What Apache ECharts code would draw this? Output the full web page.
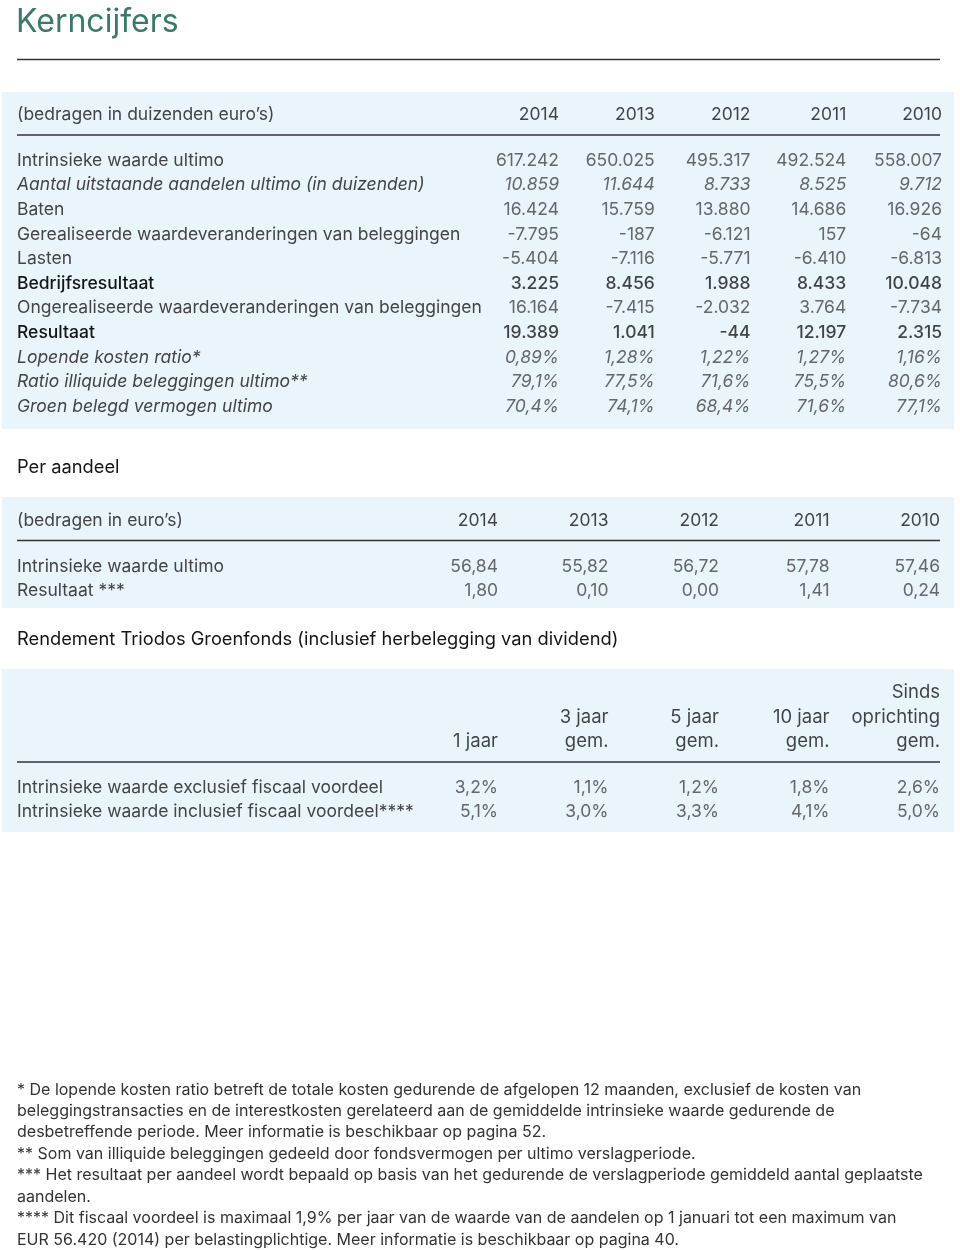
<!DOCTYPE html>
<html><head><meta charset="utf-8">
<script src="https://cdn.jsdelivr.net/npm/echarts@6/dist/echarts.min.js"></script>
<style>html,body{margin:0;padding:0;background:#fff}#c{width:960px;height:1250px}</style>
</head><body><div id="c"></div>
<script>
// ---------- DATA ----------
const years = ['2014', '2013', '2012', '2011', '2010'];
const kernHeader = '(bedragen in duizenden euro’s)';
const kernRows = [
  'Intrinsieke waarde ultimo',
  'Aantal uitstaande aandelen ultimo (in duizenden)',
  'Baten',
  'Gerealiseerde waardeveranderingen van beleggingen',
  'Lasten',
  'Bedrijfsresultaat',
  'Ongerealiseerde waardeveranderingen van beleggingen',
  'Resultaat',
  'Lopende kosten ratio*',
  'Ratio illiquide beleggingen ultimo**',
  'Groen belegd vermogen ultimo'
];
const intrinsiekeWaarde = [617242, 650025, 495317, 492524, 558007];
const aantalAandelen = [10859, 11644, 8733, 8525, 9712];
const baten = [16424, 15759, 13880, 14686, 16926];
const gerealiseerd = [-7795, -187, -6121, 157, -64];
const lasten = [-5404, -7116, -5771, -6410, -6813];
const bedrijfsresultaat = [3225, 8456, 1988, 8433, 10048];
const ongerealiseerd = [16164, -7415, -2032, 3764, -7734];
const resultaat = [19389, 1041, -44, 12197, 2315];
const lopendeKostenRatio = [0.89, 1.28, 1.22, 1.27, 1.16];
const ratioIlliquide = [79.1, 77.5, 71.6, 75.5, 80.6];
const groenBelegd = [70.4, 74.1, 68.4, 71.6, 77.1];

const perAandeelTitle = 'Per aandeel';
const perAandeelHeader = '(bedragen in euro’s)';
const perAandeelRows = ['Intrinsieke waarde ultimo', 'Resultaat ***'];
const perAandeelIntrinsiek = [56.84, 55.82, 56.72, 57.78, 57.46];
const perAandeelResultaat = [1.80, 0.10, 0.00, 1.41, 0.24];

const rendementTitle = 'Rendement Triodos Groenfonds (inclusief herbelegging van dividend)';
const rendementHeaders = ['1 jaar', '3 jaar\ngem.', '5 jaar\ngem.', '10 jaar\ngem.', 'Sinds\noprichting\ngem.'];
const rendementRows = ['Intrinsieke waarde exclusief fiscaal voordeel', 'Intrinsieke waarde inclusief fiscaal voordeel****'];
const rendementExcl = [3.2, 1.1, 1.2, 1.8, 2.6];
const rendementIncl = [5.1, 3.0, 3.3, 4.1, 5.0];

const footnotes = [
  '* De lopende kosten ratio betreft de totale kosten gedurende de afgelopen 12 maanden, exclusief de kosten van',
  'beleggingstransacties en de interestkosten gerelateerd aan de gemiddelde intrinsieke waarde gedurende de',
  'desbetreffende periode. Meer informatie is beschikbaar op pagina 52.',
  '** Som van illiquide beleggingen gedeeld door fondsvermogen per ultimo verslagperiode.',
  '*** Het resultaat per aandeel wordt bepaald op basis van het gedurende de verslagperiode gemiddeld aantal geplaatste',
  'aandelen.',
  '**** Dit fiscaal voordeel is maximaal 1,9% per jaar van de waarde van de aandelen op 1 januari tot een maximum van',
  'EUR 56.420 (2014) per belastingplichtige. Meer informatie is beschikbaar op pagina 40.'
];

// ---------- FORMATTING ----------
function fmtInt(v) {
  const s = String(Math.abs(v)).replace(/\B(?=(\d{3})+(?!\d))/g, '.');
  return (v < 0 ? '-' : '') + s;
}
function fmtDec(v, d) { return v.toFixed(d).replace('.', ','); }
function fmtPct(v, d) { return fmtDec(v, d) + '%'; }

const kernSeries = [intrinsiekeWaarde, aantalAandelen, baten, gerealiseerd, lasten, bedrijfsresultaat,
  ongerealiseerd, resultaat, lopendeKostenRatio, ratioIlliquide, groenBelegd];
const kernFormat = [fmtInt, fmtInt, fmtInt, fmtInt, fmtInt, fmtInt, fmtInt, fmtInt,
  v => fmtPct(v, 2), v => fmtPct(v, 1), v => fmtPct(v, 1)];
const kernCells = kernSeries.map((arr, r) => arr.map(kernFormat[r]));

// ---------- STYLE ----------
const FONT = 'Inter, Roboto, sans-serif';
const FS = 17.5;
const TXT = '#444444';
const DARK = '#151515';
const kernStyle = ['n', 'i', 'n', 'n', 'n', 'b', 'n', 'b', 'i', 'i', 'i'];
const styleDefs = {
  n: { fontFamily: FONT, fontSize: FS, color: TXT, fontWeight: 'normal', fontStyle: 'normal' },
  i: { fontFamily: FONT, fontSize: FS, color: TXT, fontWeight: 'normal', fontStyle: 'italic' },
  b: { fontFamily: FONT, fontSize: FS, color: DARK, fontWeight: 500, fontStyle: 'normal' },
  h: { fontFamily: FONT, fontSize: FS, color: DARK, fontWeight: 'normal', fontStyle: 'normal' },
  h3: { fontFamily: FONT, fontSize: 18.5, color: DARK, fontWeight: 'normal', fontStyle: 'normal' }
};
const LABEL_X = 17;
const DY = 1.5; // baseline nudge

const option = { animation: false, grid: [], xAxis: [], yAxis: [], series: [], graphic: [] };

function addBlock(cfg) {
  const gi = option.grid.length;
  const n = cfg.labels.length;
  const left = cfg.col0 - cfg.step;
  option.grid.push({ left: left, width: cfg.step * 5, top: cfg.y0 + DY - cfg.rowH / 2, height: cfg.rowH * n, containLabel: false });
  option.xAxis.push({ type: 'value', gridIndex: gi, min: 0, max: 5, show: false });
  option.yAxis.push({
    type: 'category', gridIndex: gi, inverse: true, data: cfg.labels,
    axisLine: { show: false }, axisTick: { show: false }, splitLine: { show: false },
    axisLabel: {
      interval: 0, align: 'left', margin: left - LABEL_X,
      fontFamily: FONT, fontSize: FS, color: TXT,
      formatter: (v, i) => v ? '{' + (cfg.labelStyles || cfg.styles)[i] + '|' + v + '}' : '',
      rich: styleDefs
    }
  });
  const data = [];
  cfg.cells.forEach((row, r) => row.forEach((t, c) => {
    if (t === '') return;
    data.push({ value: [c + 1, r], txt: t, label: Object.assign({}, styleDefs[cfg.styles[r]]) });
  }));
  option.series.push({
    type: 'scatter', xAxisIndex: gi, yAxisIndex: gi, symbolSize: 0, silent: true, data: data,
    label: { show: true, position: 'left', distance: 0, formatter: p => p.data.txt }
  });
}

// Table 1
addBlock({ labels: [kernHeader], cells: [years], styles: ['h'], labelStyles: ['n'], col0: 559, step: 95.75, y0: 113, rowH: 24.6 });
addBlock({ labels: kernRows, cells: kernCells, styles: kernStyle, col0: 559, step: 95.75, y0: 159, rowH: 24.6 });
// Table 2
addBlock({ labels: [perAandeelHeader], cells: [years], styles: ['h'], labelStyles: ['n'], col0: 498, step: 110.5, y0: 519, rowH: 24.5 });
addBlock({ labels: perAandeelRows,
  cells: [perAandeelIntrinsiek.map(v => fmtDec(v, 2)), perAandeelResultaat.map(v => fmtDec(v, 2))],
  styles: ['n', 'n'], col0: 498, step: 110.5, y0: 565, rowH: 24.5 });
// Table 3 header (multi-line, bottom aligned)
const hdrLines = rendementHeaders.map(h => h.split('\n'));
const hdrDepth = Math.max(...hdrLines.map(l => l.length));
const hdrCells = [];
for (let r = 0; r < hdrDepth; r++) {
  hdrCells.push(hdrLines.map(l => { const k = r - (hdrDepth - l.length); return k >= 0 ? l[k] : ''; }));
}
addBlock({ labels: hdrCells.map(() => ''), cells: hdrCells, styles: hdrCells.map(() => 'h3'), col0: 498, step: 110.5, y0: 691, rowH: 24.5 });
addBlock({ labels: rendementRows,
  cells: [rendementExcl.map(v => fmtPct(v, 1)), rendementIncl.map(v => fmtPct(v, 1))],
  styles: ['n', 'n'], col0: 498, step: 110.5, y0: 786, rowH: 24.5 });

// Decorations
const PANEL = '#eaf4fb';
const LINE = '#333333';
option.graphic = [
  { type: 'rect', z: -10, shape: { x: 2, y: 92, width: 952, height: 337 }, style: { fill: PANEL } },
  { type: 'rect', z: -10, shape: { x: 2, y: 497, width: 952, height: 111 }, style: { fill: PANEL } },
  { type: 'rect', z: -10, shape: { x: 2, y: 669, width: 952, height: 163 }, style: { fill: PANEL } },
  { type: 'line', shape: { x1: 17, y1: 59.5, x2: 940, y2: 59.5 }, style: { stroke: LINE, lineWidth: 1.3 } },
  { type: 'line', shape: { x1: 17, y1: 135, x2: 940, y2: 135 }, style: { stroke: LINE, lineWidth: 1.3 } },
  { type: 'line', shape: { x1: 17, y1: 540.5, x2: 940, y2: 540.5 }, style: { stroke: LINE, lineWidth: 1.3 } },
  { type: 'line', shape: { x1: 17, y1: 762, x2: 940, y2: 762 }, style: { stroke: LINE, lineWidth: 1.3 } },
  { type: 'text', x: 16, y: 22, style: { text: 'Kerncijfers', fill: '#3a7a6d', font: '32px ' + FONT, textVerticalAlign: 'middle' } },
  { type: 'text', x: LABEL_X, y: 466 + DY, style: { text: perAandeelTitle, fill: DARK, font: '18.3px ' + FONT, textVerticalAlign: 'middle' } },
  { type: 'text', x: LABEL_X, y: 638 + DY, style: { text: rendementTitle, fill: DARK, font: '18.3px ' + FONT, textVerticalAlign: 'middle' } },
  { type: 'text', x: LABEL_X, y: 1079, style: { text: footnotes.join('\n'), fill: '#333333', font: '16px ' + FONT, lineHeight: 21.45, textVerticalAlign: 'top' } }
];

const chart = echarts.init(document.getElementById('c'), null, { renderer: 'canvas' });
chart.setOption(option);
</script>
</body></html>
